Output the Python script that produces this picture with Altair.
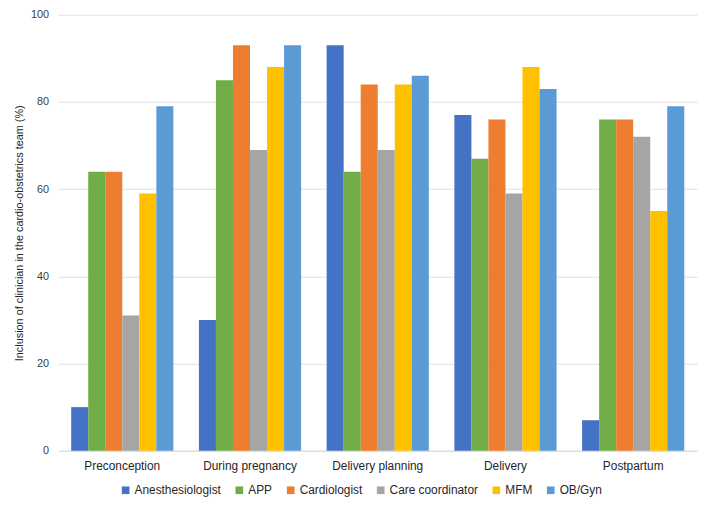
import altair as alt
import pandas as pd

stages = ["Preconception", "During pregnancy", "Delivery planning", "Delivery", "Postpartum"]
roles = ["Anesthesiologist", "APP", "Cardiologist", "Care coordinator", "MFM", "OB/Gyn"]
colors = ["#4472C4", "#70AD47", "#ED7D31", "#A5A5A5", "#FFC000", "#5B9BD5"]

anesthesiologist = [10, 30, 93, 77, 7]
app = [64, 85, 64, 67, 76]
cardiologist = [64, 93, 84, 76, 76]
care_coordinator = [31, 69, 69, 59, 72]
mfm = [59, 88, 84, 88, 55]
obgyn = [79, 93, 86, 83, 79]

series = [anesthesiologist, app, cardiologist, care_coordinator, mfm, obgyn]
rows = []
for role, vals in zip(roles, series):
    for stage, v in zip(stages, vals):
        rows.append({"stage": stage, "role": role, "value": v})
df = pd.DataFrame(rows)

font = "Liberation Sans"

chart = alt.Chart(df).mark_bar().encode(
    x=alt.X("stage:N", sort=stages, title=None,
            scale=alt.Scale(paddingInner=0.2, paddingOuter=0.1),
            axis=alt.Axis(labelAngle=0, ticks=False, domainColor="#d9d9d9",
                          labelFontSize=12, labelPadding=10, labelColor="#262626",
                          labelFont=font)),
    xOffset=alt.XOffset("role:N", sort=roles, scale=alt.Scale(paddingInner=0, paddingOuter=0)),
    y=alt.Y("value:Q", title="Inclusion of clinician in the cardio-obstetrics team (%)",
            scale=alt.Scale(domain=[0, 100]),
            axis=alt.Axis(values=[0, 20, 40, 60, 80, 100], domain=False, ticks=False,
                          gridColor="#e0e0e0", labelFontSize=11, labelPadding=10,
                          labelColor="#404040", labelFont=font,
                          titleFont=font, titleFontSize=11, titleFontWeight="normal",
                          titleColor="#262626", titlePadding=6)),
    color=alt.Color("role:N", sort=roles,
                    scale=alt.Scale(domain=roles, range=colors),
                    legend=alt.Legend(title=None, orient="none", direction="horizontal",
                                      legendX=62, legendY=475, symbolType="square",
                                      symbolSize=60, symbolStrokeWidth=0,
                                      labelFontSize=12, labelFont=font, labelColor="#262626",
                                      columnPadding=12, labelOffset=3)),
).properties(
    width=646, height=441,
    autosize=alt.AutoSizeParams(type="none"),
    padding={"left": 51, "top": 4, "right": 4, "bottom": 48},
).configure_view(stroke=None)

chart.save("out.html", embed_options={"renderer": "svg", "actions": False})
